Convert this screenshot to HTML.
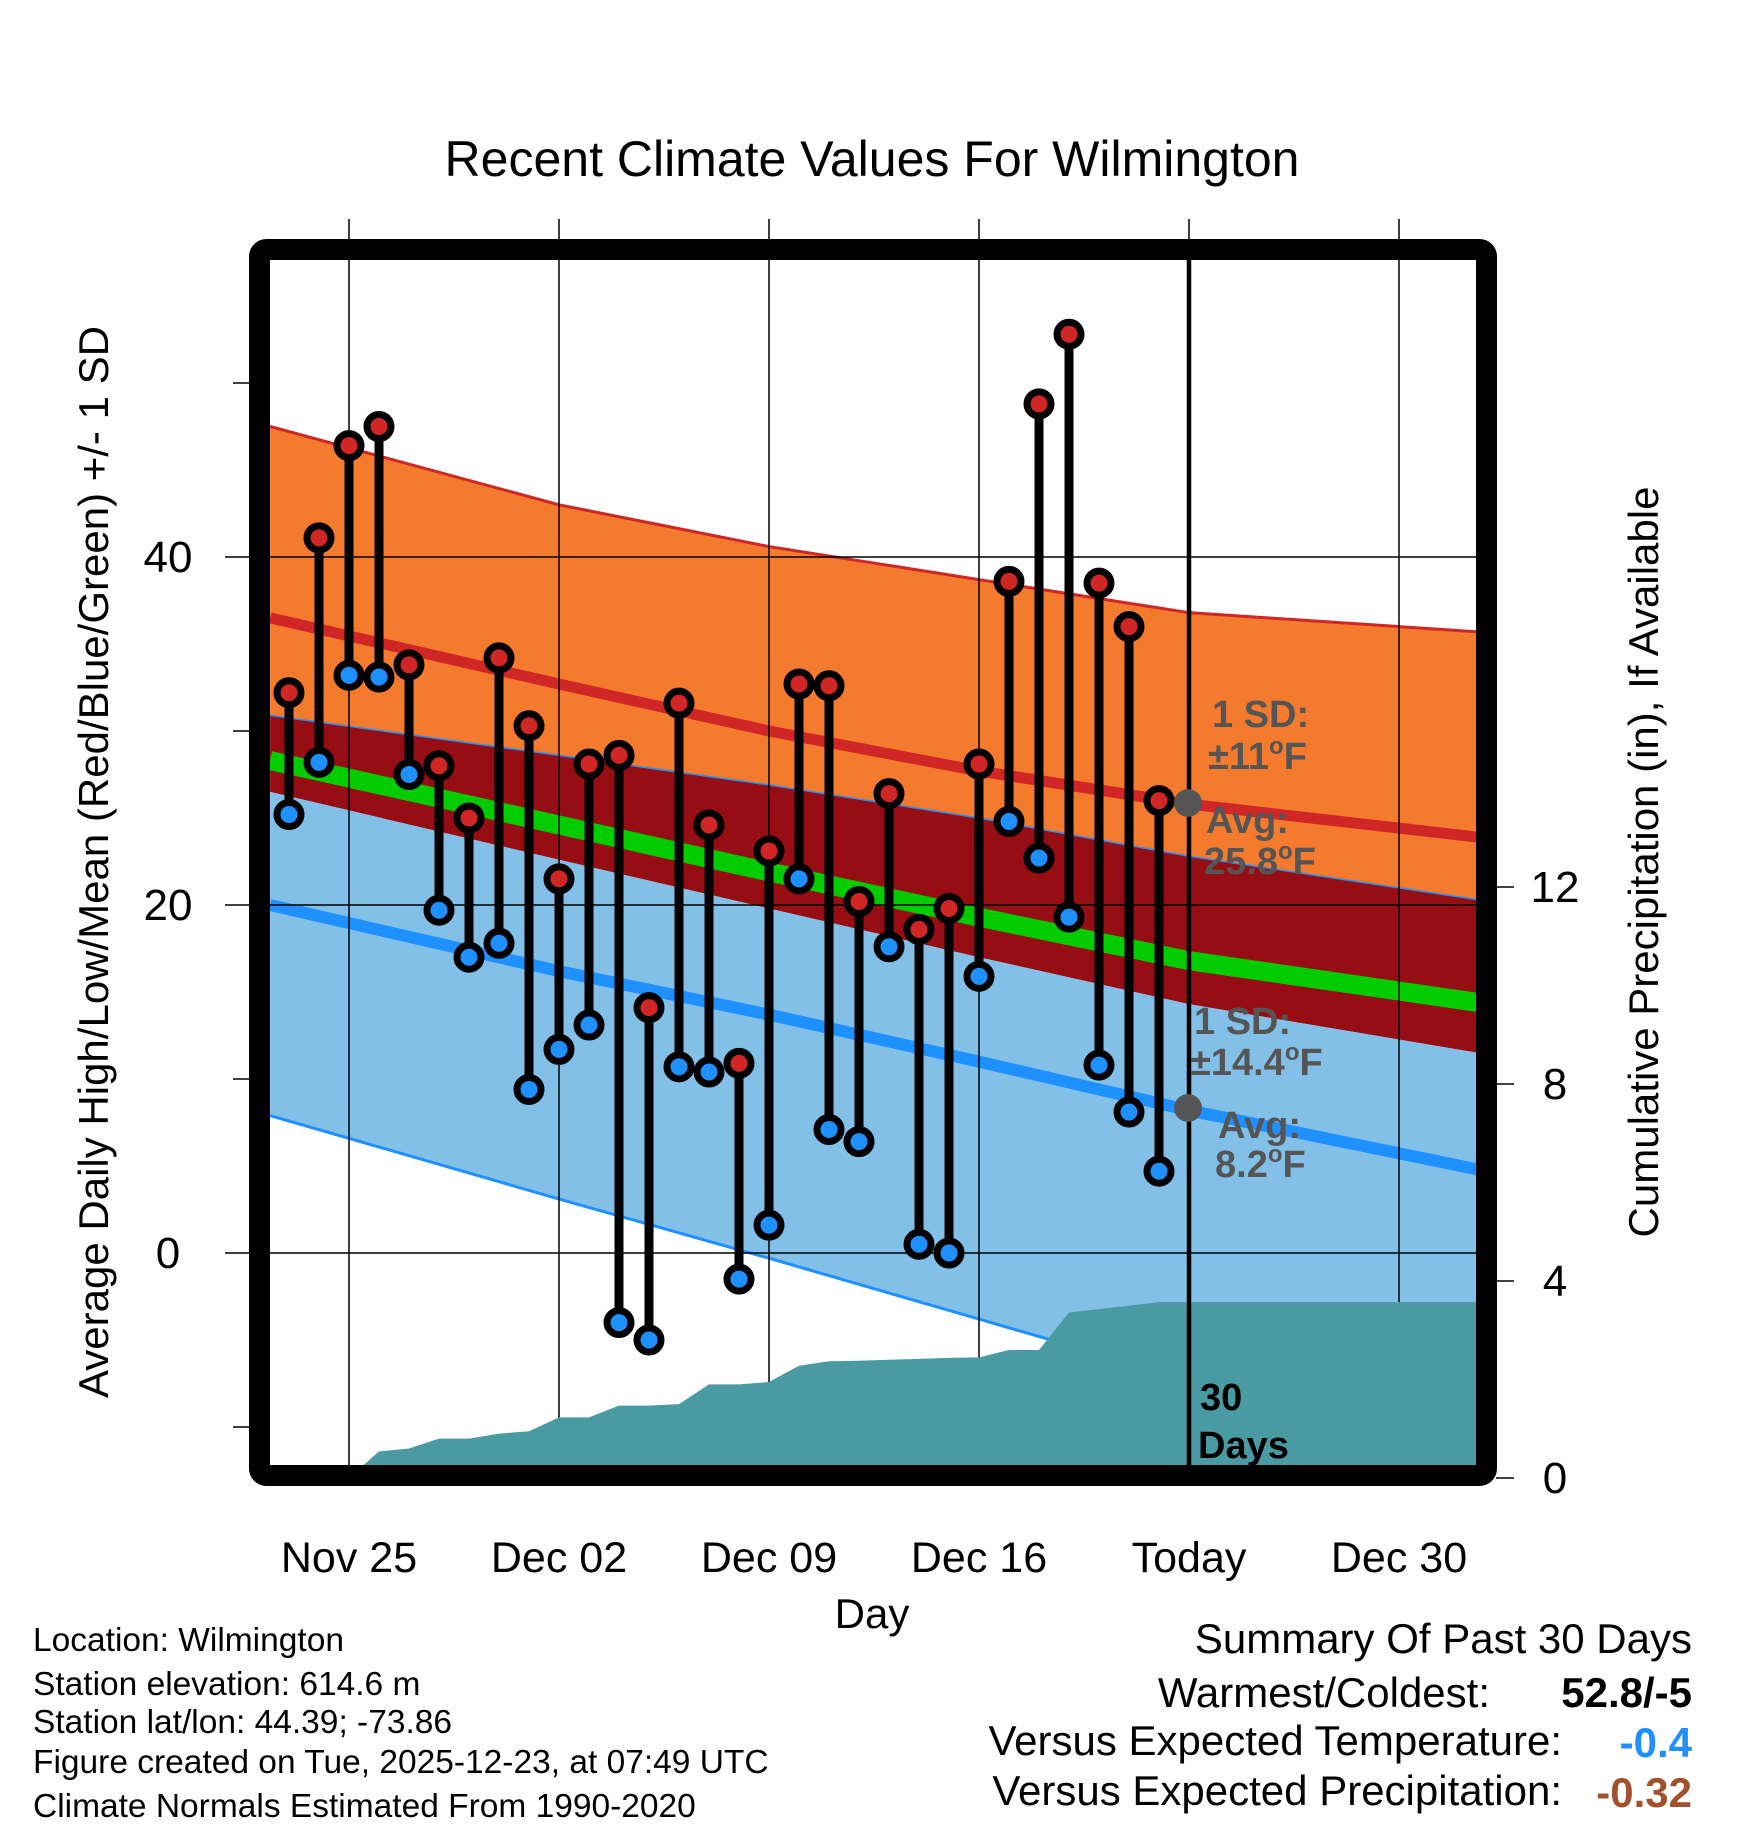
<!DOCTYPE html>
<html><head><meta charset="utf-8"><style>
html,body{margin:0;padding:0;background:#fff}
svg{display:block;font-family:"Liberation Sans",sans-serif}
</style></head><body>
<svg id="chart" width="1748" height="1828" viewBox="0 0 1748 1828">
<defs><clipPath id="plotclip"><rect x="270" y="260" width="1208" height="1208"/></clipPath></defs>
<g id="plot" clip-path="url(#plotclip)"></g>
<g id="over"></g>
</svg>
<script>
// ---- data ----
const normDays = [-2.63, 7, 14, 21, 28, 37.63]; // days since Nov 25
const normUpper = [47.5, 43.0, 40.6, 38.7, 36.8, 35.7];
const normHigh = [36.5, 32.7, 30.0, 27.7, 25.8, 23.9];
const normHighLower = [30.9, 28.6, 26.9, 25.0, 22.8, 20.3];
const normLowUpper = [26.5, 22.6, 19.8, 17.0, 14.3, 11.5];
const normMean = [28.3, 24.6, 21.9, 19.3, 16.8, 14.4];
const normLow = [20.0, 16.2, 13.7, 11.0, 8.2, 4.8];
const normLowLower = [7.9, 3.1, -0.3, -3.8, -7.3, -12.0];
const obsHigh = [32.2,41.1,46.4,47.5,33.8,28.0,25.0,34.2,30.3,21.5,28.1,28.6,14.1,31.6,24.6,10.9,23.1,32.7,32.6,20.2,26.4,18.6,19.8,28.1,38.6,48.8,52.8,38.5,36.0,26.0];
const obsLow = [25.2,28.2,33.2,33.1,27.5,19.7,17.0,17.8,9.4,11.7,13.1,-4.0,-5.0,10.7,10.4,-1.5,1.6,21.5,7.1,6.4,17.6,0.5,0.0,15.9,24.8,22.7,19.3,10.8,8.1,4.7];
const precip = [0,0,0,0.54,0.6,0.8,0.8,0.9,0.95,1.23,1.23,1.47,1.47,1.5,1.9,1.9,1.95,2.28,2.37,2.38,2.4,2.42,2.44,2.45,2.6,2.6,3.36,3.43,3.5,3.57];
const xTickLabels = ["Nov 25","Dec 02","Dec 09","Dec 16","Today","Dec 30"];
const yTickVals = [0,20,40];
const yMinorVals = [-10,10,30,50];
const pTickVals = [0,4,8,12];

// ---- scales ----
const xs = d => 349 + 30*d;
const ys = t => 1253 - 17.4*t;
const ps = p => 1478 - 49.25*p;
const NS = "http://www.w3.org/2000/svg";
function mk(tag, attrs, parent){ const e=document.createElementNS(NS,tag); for(const k in attrs) e.setAttribute(k,attrs[k]); parent.appendChild(e); return e; }
const plot = document.getElementById('plot');
const over = document.getElementById('over');
const pts = arr => normDays.map((d,i)=>xs(d)+','+ys(arr[i]));
function band(top, bot, fill, name){
  const p = pts(top).concat(pts(bot).reverse());
  const e = mk('polygon',{points:p.join(' '),fill:fill},plot);
  
  
}
function line(arr, color, w, name){
  const e = mk('polyline',{points:pts(arr).join(' '),fill:'none',stroke:color,'stroke-width':w,'stroke-linejoin':'round'},plot);
  
  
}
band(normUpper, normHighLower, '#f47a2e', 'high-sd-band');
band(normHighLower, normLowUpper, '#960d13', 'overlap-band');
band(normLowUpper, normLowLower, '#82c0e8', 'low-sd-band');
line(normUpper, '#d02626', 3, 'high-plus-sd-line');
line(normHighLower, '#1e90ff', 1.5, 'high-minus-sd-line');
line(normLowLower, '#1e90ff', 3, 'low-minus-sd-line');
line(normMean, '#00cc00', 19, 'mean-normal-line');
line(normHigh, '#d02626', 11, 'high-normal-line');
line(normLow, '#1e90ff', 12, 'low-normal-line');

xTickLabels.forEach((l,i)=>{
  const x = xs(7*i);
  const g = mk('line',{x1:x,x2:x,y1:219,y2:1468,stroke:'#000','stroke-width':1.5},over);
  
  
  const t = mk('text',{x:x,y:1572,'font-size':43,'text-anchor':'middle',fill:'#000'},over);
  t.textContent = l;
  
  
});
yTickVals.forEach(v=>{
  const y = ys(v);
  const g = mk('line',{x1:225,x2:1478,y1:y,y2:y,stroke:'#000','stroke-width':1.5},over);
  
  
  const t = mk('text',{x:168,y:y+15,'font-size':44,'text-anchor':'middle',fill:'#000'},over);
  t.textContent = v;
  
  
});
yMinorVals.forEach(v=>{
  const y = ys(v);
  const g = mk('line',{x1:233,x2:250,y1:y,y2:y,stroke:'#000','stroke-width':1.5},over);
  
  
});
pTickVals.forEach(v=>{
  const y = ps(v);
  const g = mk('line',{x1:1496,x2:1514,y1:y,y2:y,stroke:'#000','stroke-width':1.5},over);
  
  
  const t = mk('text',{x:1555,y:y+15,'font-size':44,'text-anchor':'middle',fill:'#000'},over);
  t.textContent = v;
  
  
});

{
  const p = [xs(-2)+','+ps(0)];
  precip.forEach((v,i)=>p.push(xs(i-2)+','+ps(v)));
  p.push(xs(40)+','+ps(precip[precip.length-1]));
  p.push(xs(40)+','+ps(-1));
  p.push(xs(-2)+','+ps(-1));
  const e = mk('polygon',{points:p.join(' '),fill:'#4a9aa3','clip-path':'url(#plotclip)'},over);
  
  
}

obsHigh.forEach((h,i)=>{
  const x = xs(i-2);
  const s = mk('line',{x1:x,x2:x,y1:ys(h),y2:ys(obsLow[i]),stroke:'#000','stroke-width':9},over);
  
  
});
obsHigh.forEach((h,i)=>{
  const x = xs(i-2);
  const a = mk('circle',{cx:x,cy:ys(h),r:12,fill:'#d02626',stroke:'#000','stroke-width':7},over);
  
  
  const b = mk('circle',{cx:x,cy:ys(obsLow[i]),r:12,fill:'#1e90ff',stroke:'#000','stroke-width':7},over);
  
  
});
</script>
<svg style="position:absolute;left:0;top:0" width="1748" height="1828">
<line x1="1189" x2="1189" y1="260" y2="1470" stroke="#000" stroke-width="4.5"/>
<rect x="259.5" y="249.5" width="1227" height="1226" rx="7" fill="none" stroke="#000" stroke-width="21"/>
<circle cx="1188" cy="803" r="14" fill="#555"/>
<circle cx="1188" cy="1108" r="14" fill="#555"/>
<g font-family="Liberation Sans, sans-serif" font-weight="bold" font-size="38" fill="#555">
<text x="1212" y="727">1 SD:</text>
<text x="1208" y="769">±11<tspan font-size="24" dy="-15">o</tspan><tspan dy="15">F</tspan></text>
<text x="1206" y="833">Avg:</text>
<text x="1204" y="874">25.8<tspan font-size="24" dy="-15">o</tspan><tspan dy="15">F</tspan></text>
<text x="1194" y="1034">1 SD:</text>
<text x="1190" y="1075">±14.4<tspan font-size="24" dy="-15">o</tspan><tspan dy="15">F</tspan></text>
<text x="1218" y="1138">Avg:</text>
<text x="1215" y="1177">8.2<tspan font-size="24" dy="-15">o</tspan><tspan dy="15">F</tspan></text>
</g>
<g font-family="Liberation Sans, sans-serif" font-weight="bold" font-size="38" fill="#000">
<text x="1200" y="1410">30</text>
<text x="1198" y="1458">Days</text>
</g>
<g font-family="Liberation Sans, sans-serif" fill="#000">
<text x="872" y="176" font-size="50" text-anchor="middle">Recent Climate Values For Wilmington</text>
<text transform="translate(108,862) rotate(-90)" font-size="42" text-anchor="middle">Average Daily High/Low/Mean (Red/Blue/Green) +/- 1 SD</text>
<text transform="translate(1658,862) rotate(-90)" font-size="42" text-anchor="middle">Cumulative Precipitation (in), If Available</text>
<text x="872" y="1628" font-size="42" text-anchor="middle">Day</text>
<g font-size="33.5">
<text x="33" y="1651">Location: Wilmington</text>
<text x="33" y="1695">Station elevation: 614.6 m</text>
<text x="33" y="1733">Station lat/lon: 44.39; -73.86</text>
<text x="33" y="1773">Figure created on Tue, 2025-12-23, at 07:49 UTC</text>
<text x="33" y="1817">Climate Normals Estimated From 1990-2020</text>
</g>
<g font-size="42">
<text x="1692" y="1653" text-anchor="end">Summary Of Past 30 Days</text>
<text x="1490" y="1707" text-anchor="end">Warmest/Coldest:</text>
<text x="1692" y="1707" text-anchor="end" font-weight="bold">52.8/-5</text>
<text x="1562" y="1755" text-anchor="end">Versus Expected Temperature:</text>
<text x="1692" y="1757" text-anchor="end" font-weight="bold" fill="#1e90ff">-0.4</text>
<text x="1562" y="1805" text-anchor="end">Versus Expected Precipitation:</text>
<text x="1692" y="1807" text-anchor="end" font-weight="bold" fill="#a0522d">-0.32</text>
</g>
</g>
</svg>
</body></html>
